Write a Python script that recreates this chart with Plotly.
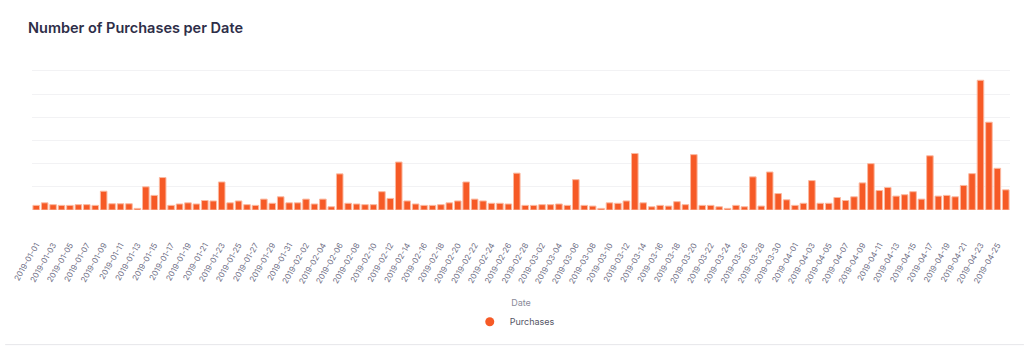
import pandas as pd
import plotly.graph_objects as go

# Daily purchase counts, 2019-01-01 .. 2019-04-26
start_date = "2019-01-01"
purchases = [
    2.0, 3.1, 2.3, 2.0, 2.0, 2.3, 2.3, 2.0, 8.1, 2.7,   # Jan 01-10
    2.7, 2.7, 0.7, 10.0, 6.3, 14.0, 2.0, 2.6, 3.1, 2.6,  # Jan 11-20
    4.1, 3.9, 12.1, 3.1, 3.9, 2.3, 2.0, 4.7, 2.9, 5.7,   # Jan 21-30
    3.1,                                                 # Jan 31
    3.1, 4.7, 2.6, 4.7, 1.4, 15.6, 2.9, 2.6, 2.3, 2.3,   # Feb 01-10
    7.9, 5.0, 20.7, 3.9, 2.6, 2.0, 2.0, 2.3, 3.1, 3.9,   # Feb 11-20
    12.1, 4.7, 3.9, 2.9, 2.9, 2.6, 15.9, 2.0,            # Feb 21-28
    2.0, 2.3, 2.3, 2.6, 2.0, 13.1, 2.0, 1.7, 0.7, 3.1,   # Mar 01-10
    2.9, 3.9, 24.4, 3.1, 1.4, 2.0, 1.7, 3.6, 2.3, 23.9,  # Mar 11-20
    2.0, 2.0, 1.4, 0.7, 2.0, 1.4, 14.3, 1.7, 16.4, 7.1,  # Mar 21-30
    4.4,                                                 # Mar 31
    2.0, 2.9, 12.7, 2.9, 2.9, 5.4, 4.1, 5.7, 11.7, 20.0, # Apr 01-10
    8.4, 9.7, 6.0, 6.6, 7.9, 4.7, 23.4, 6.0, 6.3, 5.7,   # Apr 11-20
    10.6, 15.7, 56.0, 37.9, 18.0, 8.7,                   # Apr 21-26
]
dates = pd.date_range(start_date, periods=len(purchases), freq="D")

series_name = "Purchases"
chart_title = "Number of Purchases per Date"
x_title = "Date"

BAR_COLOR = "#F65A26"
TEXT_DARK = "#2E2E48"
TEXT_GREY = "#6E6E85"
FONT = "Inter, 'Open Sans', sans-serif"

# plot box: 60 units of y span 139.7 px; a little head-room keeps the top gridline drawn
PLOT_TOP, PLOT_BOTTOM = 69, 210.7
PX_PER_UNIT = (PLOT_BOTTOM - 71) / 60
Y_MAX = (PLOT_BOTTOM - PLOT_TOP) / PX_PER_UNIT
PLOT_H = PLOT_BOTTOM - PLOT_TOP

fig = go.Figure()
fig.add_trace(go.Bar(
    x=dates, y=purchases, name=series_name,
    marker=dict(color=BAR_COLOR, line=dict(color="#FBB9A0", width=1)),
    showlegend=False,
))
# circular legend swatch
fig.add_trace(go.Scatter(
    x=[None], y=[None], mode="markers", name=series_name,
    marker=dict(color=BAR_COLOR, size=9, symbol="circle"),
))

fig.update_layout(
    width=1024, height=348,
    margin=dict(l=27, r=14, t=PLOT_TOP, b=348 - PLOT_BOTTOM),
    paper_bgcolor="white", plot_bgcolor="white",
    font=dict(family=FONT, size=9, color=TEXT_GREY),
    bargap=0.22,
    title=dict(
        text=chart_title, xref="container", yref="container",
        x=28 / 1024, xanchor="left", y=1 - 28 / 348, yanchor="middle",
        font=dict(family=FONT, size=14.5, color=TEXT_DARK, weight=600),
    ),
    xaxis=dict(
        type="date",
        range=[dates[0] - pd.Timedelta(hours=12), dates[-1] + pd.Timedelta(hours=12)],
        tick0=start_date, dtick=2 * 86400000, tickformat="%Y-%m-%d",
        tickangle=-60, tickfont=dict(size=8, color=TEXT_GREY),
        ticklabelstandoff=28,
        showgrid=False, showline=False, zeroline=False,
        title=dict(text=x_title, standoff=15, font=dict(size=9, color="#8A8A9A")),
    ),
    yaxis=dict(
        range=[0, Y_MAX], dtick=10, showticklabels=False,
        showgrid=True, gridcolor="#F2F2F4", gridwidth=1,
        zeroline=False, showline=False,
    ),
    legend=dict(
        orientation="h", x=(467 - 27) / 983, xanchor="left",
        y=(PLOT_BOTTOM - 323) / PLOT_H, yanchor="middle",
        font=dict(size=9, color="#555566"),
    ),
    shapes=[dict(
        type="line", xref="paper", yref="paper",
        x0=-27 / 983, x1=1 + 14 / 983,
        y0=(PLOT_BOTTOM - 346) / PLOT_H, y1=(PLOT_BOTTOM - 346) / PLOT_H,
        line=dict(color="#E6E6EA", width=1),
    )],
)

fig.write_html("out.html")
